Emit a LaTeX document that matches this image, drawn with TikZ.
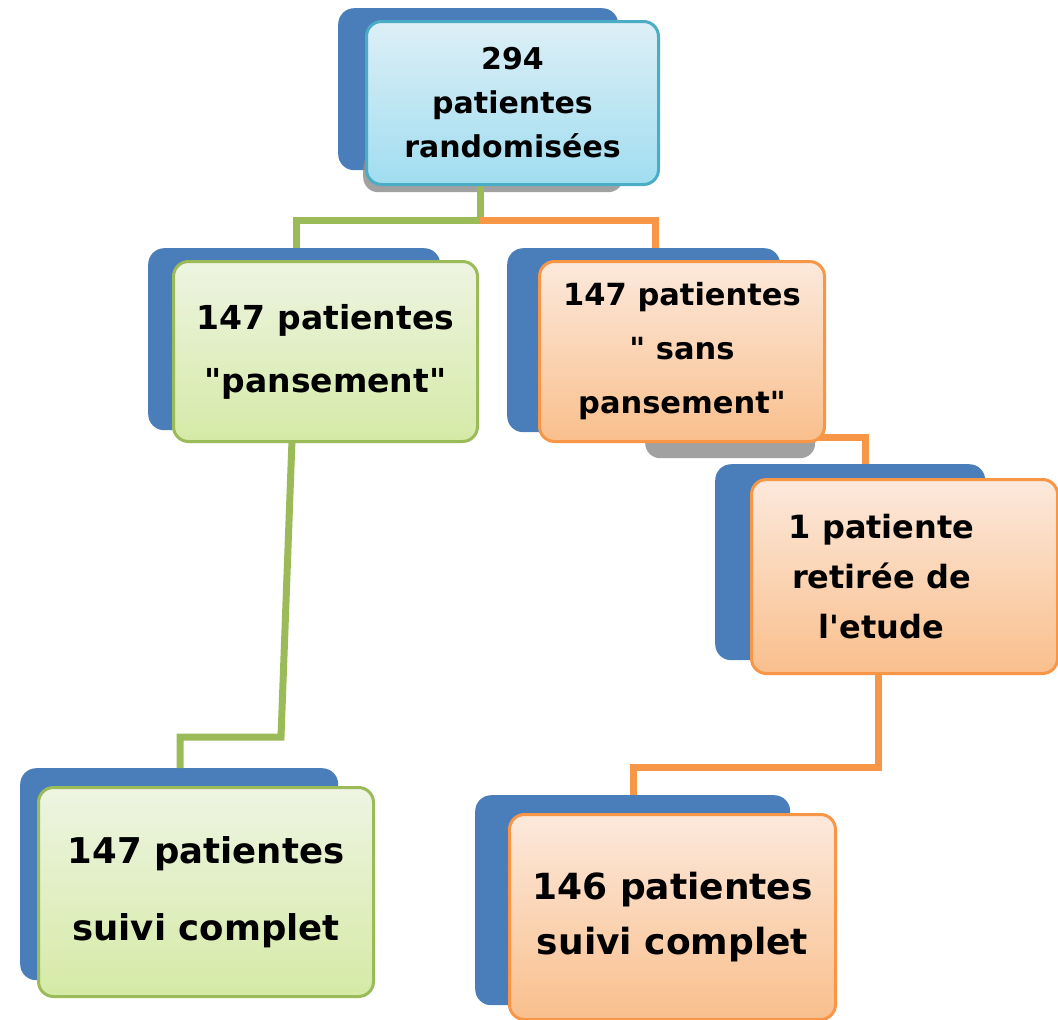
\documentclass[tikz,border=0pt]{standalone}
\usepackage{fontspec}
\setmainfont{DejaVu Sans}[Ligatures=TeXOff]
\usetikzlibrary{calc}
\definecolor{backblue}{HTML}{4A7EBB}
\definecolor{grnborder}{HTML}{9BBB59}
\definecolor{grntop}{HTML}{EEF4E2}
\definecolor{grnbot}{HTML}{D5EAA6}
\definecolor{orgborder}{HTML}{F79646}
\definecolor{orgtop}{HTML}{FCE9DC}
\definecolor{orgbot}{HTML}{F9BF8C}
\definecolor{cyborder}{HTML}{4BACC6}
\definecolor{cytop}{HTML}{DDEFF6}
\definecolor{cybot}{HTML}{A0DDF0}
\definecolor{shadowgray}{HTML}{8A8A8A}
\tikzset{
  backbox/.style={fill=backblue, rounded corners=16pt, anchor=north west, inner sep=0pt},
  frontbox/.style={line width=3pt, rounded corners=15pt, anchor=north west, inner sep=0pt, align=center,
    font=\bfseries\fontsize{33}{48}\selectfont},
  grnbox/.style={frontbox, draw=grnborder, top color=grntop, bottom color=grnbot},
  orgbox/.style={frontbox, draw=orgborder, top color=orgtop, bottom color=orgbot},
  cybox/.style={frontbox, draw=cyborder, top color=cytop, bottom color=cybot},
  shadowbox/.style={fill=shadowgray, opacity=0.8, rounded corners=15pt, anchor=north west, inner sep=0pt},
  gline/.style={draw=grnborder, line width=7pt},
  oline/.style={draw=orgborder, line width=7pt},
}
\begin{document}
\begin{tikzpicture}[x=1pt,y=-1pt]
\useasboundingbox (0,0) rectangle (1058,1020);

% back boxes
\node[backbox, minimum width=280pt, minimum height=162pt] (b1) at (338,8) {};
\node[backbox, minimum width=292pt, minimum height=182pt] (b2) at (148,248) {};
\node[backbox, minimum width=273pt, minimum height=184pt] (b3) at (507,248) {};
\node[backbox, minimum width=270pt, minimum height=196pt] (b4) at (715,464) {};
\node[backbox, minimum width=318pt, minimum height=212pt] (b5) at (20,768) {};
\node[backbox, minimum width=315pt, minimum height=210pt] (b6) at (475,795) {};

% shadows
\node[shadowbox, minimum width=260pt, minimum height=40pt] (s1) at (363,152) {};
\node[shadowbox, minimum width=170pt, minimum height=30pt] (s3) at (645,428) {};

% connectors
\coordinate (j1) at (480,220);
\draw[gline] ($(b1.south west)+(142,13)$) -- (j1);
\draw[gline] (j1) -- (296,220) -- (296,248);
\draw[oline] (j1) -- (655,220) -- (655,248);

\coordinate (g1) at (281,737);
\coordinate (g2) at (180,737);
\draw[gline] (292,440) -- (g1) -- (g2) -- (g2 |- b5.north);

\coordinate (o1) at (865,437);
\draw[oline] (815,437) -- (o1) -- (o1 |- b4.north);

\coordinate (o2) at (878,767);
\coordinate (o3) at (633,767);
\draw[oline] (878,672) -- (o2) -- (o3) -- (o3 |- b6.north);

% front boxes
\node[cybox, minimum width=292pt, minimum height=163pt, font=\bfseries\fontsize{30}{44}\selectfont] (f1) at (365,20) {294\\patientes\\randomisées};
\node[grnbox, minimum width=304pt, minimum height=180pt, font=\bfseries\fontsize{33}{63}\selectfont] (f2) at (172,260) {147 patientes\\"pansement"};
\node[orgbox, minimum width=285pt, minimum height=180pt, font=\bfseries\fontsize{30.5}{54}\selectfont] (f3) at (538,260) {147 patientes\\" sans\\pansement"};
\node[orgbox, minimum width=306pt, minimum height=194pt] (f4) at (750,478) {};
\node[align=center, inner sep=0pt, font=\bfseries\fontsize{32}{50}\selectfont] (t4) at ($(f4.center)+(-23,0)$) {1 patiente\\retirée de\\l'etude};
\node[grnbox, minimum width=335pt, minimum height=209pt, font=\bfseries\fontsize{35.5}{77}\selectfont] (f5) at (37,786) {147 patientes\\suivi complet};
\node[orgbox, minimum width=326pt, minimum height=205pt, font=\bfseries\fontsize{36}{55}\selectfont] (f6) at (508,813) {146 patientes\\suivi complet};
\end{tikzpicture}
\end{document}
